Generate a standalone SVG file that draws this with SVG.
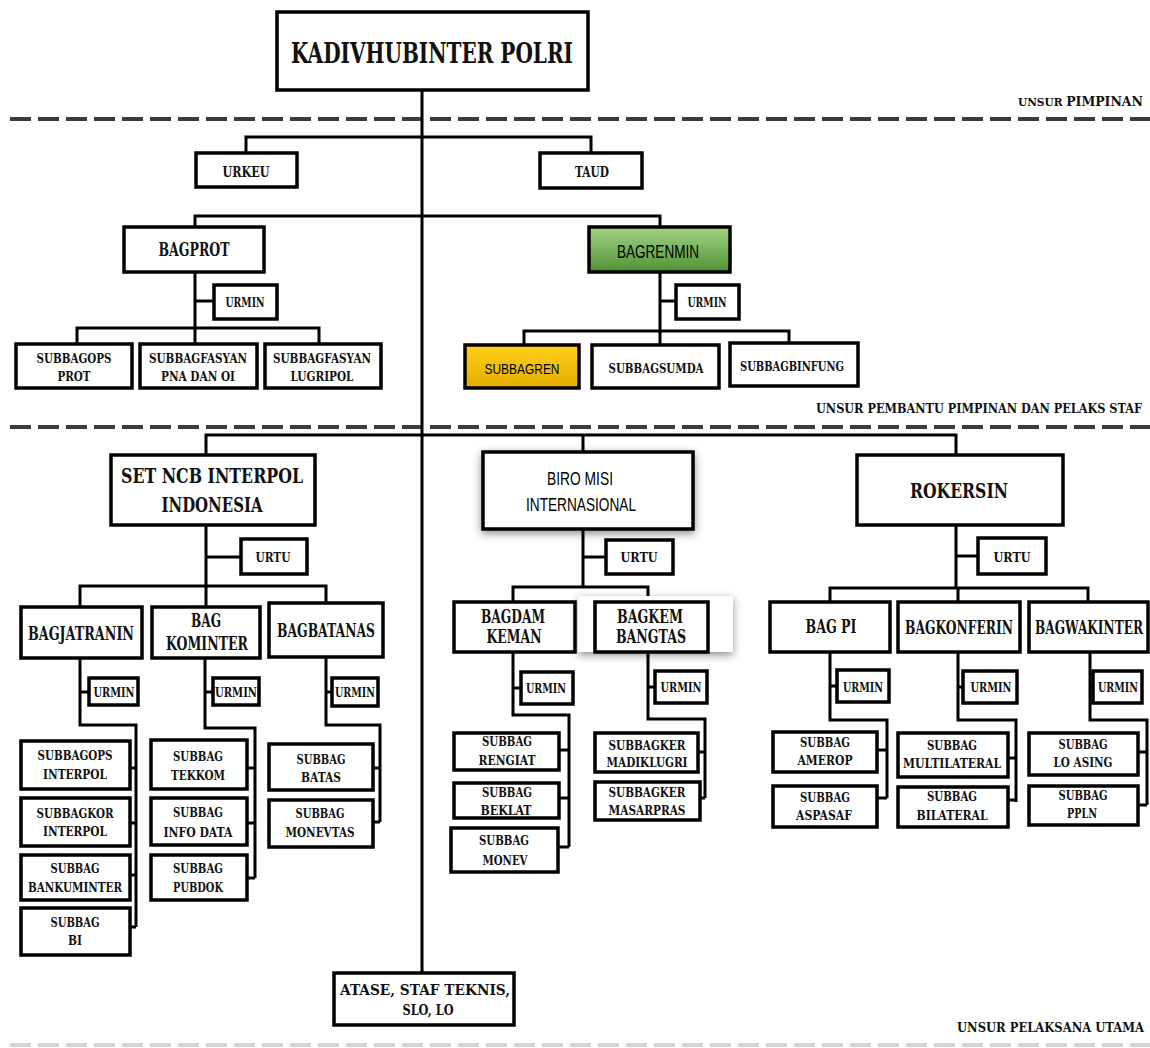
<svg xmlns="http://www.w3.org/2000/svg" width="1150" height="1048" viewBox="0 0 1150 1048">
<defs>
<style>
.box{fill:#fff;stroke:#000;stroke-width:3.5}
.ln{fill:none;stroke:#000;stroke-width:3}
.dash{fill:none;stroke:#3c3c3c;stroke-width:4;stroke-dasharray:21 7}
.t{font-family:"DejaVu Serif","Liberation Serif",serif;font-weight:bold;text-anchor:middle;fill:#111}
.s{font-family:"Liberation Sans","Arial",sans-serif;text-anchor:middle;fill:#000}
.u{font-family:"DejaVu Serif","Liberation Serif",serif;font-weight:bold;fill:#111}
.f28{font-size:28px}.f20{font-size:20px}.f19{font-size:19px}.f18{font-size:18px}.f17{font-size:17px}.f14{font-size:14px}.f13{font-size:13px}.f12{font-size:12px}
</style>
<linearGradient id="green" x1="0" y1="0" x2="0" y2="1">
<stop offset="0" stop-color="#a3d487"/><stop offset="1" stop-color="#4f9134"/>
</linearGradient>
<linearGradient id="yellow" x1="0" y1="0" x2="0" y2="1">
<stop offset="0" stop-color="#ffcf1a"/><stop offset="1" stop-color="#e5ae00"/>
</linearGradient>
<filter id="shadow" x="-20%" y="-30%" width="140%" height="160%">
<feDropShadow dx="0" dy="3" stdDeviation="4" flood-color="#000" flood-opacity="0.45"/>
</filter>
</defs>
<rect width="1150" height="1048" fill="#fff"/>

<g id="separators">
<line class="dash" x1="10" y1="119" x2="1150" y2="119"/>
<line class="dash" x1="10" y1="427" x2="1150" y2="427"/>
<line class="dash" x1="10" y1="1045" x2="1150" y2="1045" style="stroke:#d4d4d4"/>
<text class="u" x="1018" y="106" textLength="125" lengthAdjust="spacingAndGlyphs"><tspan style="font-size:11px">UNSUR </tspan><tspan style="font-size:13px">PIMPINAN</tspan></text>
<text class="u f12" x="816" y="413" textLength="326" lengthAdjust="spacingAndGlyphs">UNSUR PEMBANTU PIMPINAN DAN PELAKS STAF</text>
<text class="u f12" x="957" y="1032" textLength="187" lengthAdjust="spacingAndGlyphs">UNSUR PELAKSANA UTAMA</text>
</g>

<g id="connectors">
<path class="ln" d="M422 90 V973"/>
<path class="ln" d="M246 153 V137 H591 V153"/>
<path class="ln" d="M195 227 V216 H660 V227"/>
<path class="ln" d="M195 272 V328 M195 301 H214 M77 344 V328 H319 V344 M195 328 V344"/>
<path class="ln" d="M660 272 V331 M660 301 H676 M524 345 V331 H789 V343 M660 331 V345"/>
<path class="ln" d="M206 455 V435 H956 V455 M583 435 V452"/>
<path class="ln" d="M206 525 V586 M206 557 H241 M80 607 V586 H326 V603 M206 586 V607"/>
<path class="ln" d="M80 658 V725 H136 V927 M80 692 H89 M130 768 H136 M130 823 H136 M130 875 H136 M130 927 H136"/>
<path class="ln" d="M205 658 V728 H255 V878 M205 692 H213 M247 768 H255 M247 823 H255 M247 878 H255"/>
<path class="ln" d="M326 657 V725 H380 V822 M326 692 H332 M373 768 H380 M373 822 H380"/>
<path class="ln" d="M583 529 V587 M583 557 H606 M513 602 V587 H648 V602"/>
<path class="ln" d="M513 652 V715 H569 V847 M513 688 H521 M559 750 H569 M559 798 H569 M558 847 H569"/>
<path class="ln" d="M648 652 V719 H705 V798 M648 687 H655 M698 752 H705 M698 798 H705"/>
<path class="ln" d="M956 525 V588 M956 556 H978 M830 602 V588 H1088 V602 M958 588 V602"/>
<path class="ln" d="M830 652 V720 H887 V798 M830 686 H837 M877 750 H887 M877 798 H887"/>
<path class="ln" d="M958 652 V720 H1016 V802 M958 687 H963 M1008 758 H1016 M1008 800 H1016"/>
<path class="ln" d="M1090 652 V720 H1147 V805 M1090 687 H1093 M1138 752 H1147 M1138 805 H1147"/>
</g>

<g id="kadivhubinter"><rect class="box" x="277" y="12" width="311" height="78"/><text class="t f28" x="432" y="63" textLength="282" lengthAdjust="spacingAndGlyphs">KADIVHUBINTER POLRI</text></g>
<g id="urkeu"><rect class="box" x="196" y="153" width="101" height="34"/><text class="t f14" x="246" y="177" textLength="47" lengthAdjust="spacingAndGlyphs">URKEU</text></g>
<g id="taud"><rect class="box" x="540" y="153" width="102" height="35"/><text class="t f14" x="592" y="177" textLength="34" lengthAdjust="spacingAndGlyphs">TAUD</text></g>

<g id="bagprot"><rect class="box" x="124" y="227" width="140" height="45"/><text class="t f18" x="194" y="256" textLength="71" lengthAdjust="spacingAndGlyphs">BAGPROT</text></g>
<g id="bagprot-urmin"><rect class="box" x="214" y="285" width="63" height="34"/><text class="t f13" x="245" y="307" textLength="39" lengthAdjust="spacingAndGlyphs">URMIN</text></g>
<g id="subbagops-prot"><rect class="box" x="16" y="344" width="116" height="44"/><text class="t f13" x="74" y="363" textLength="75" lengthAdjust="spacingAndGlyphs">SUBBAGOPS</text><text class="t f13" x="74" y="381" textLength="33" lengthAdjust="spacingAndGlyphs">PROT</text></g>
<g id="subbagfasyan-pna"><rect class="box" x="140" y="344" width="117" height="44"/><text class="t f13" x="198" y="363" textLength="98" lengthAdjust="spacingAndGlyphs">SUBBAGFASYAN</text><text class="t f13" x="198" y="381" textLength="74" lengthAdjust="spacingAndGlyphs">PNA DAN OI</text></g>
<g id="subbagfasyan-lugripol"><rect class="box" x="265" y="344" width="116" height="44"/><text class="t f13" x="322" y="363" textLength="98" lengthAdjust="spacingAndGlyphs">SUBBAGFASYAN</text><text class="t f13" x="322" y="381" textLength="63" lengthAdjust="spacingAndGlyphs">LUGRIPOL</text></g>

<g id="bagrenmin"><rect class="box" x="589" y="227" width="141" height="45" style="fill:url(#green)"/><text class="s f19" x="658" y="258" textLength="82" lengthAdjust="spacingAndGlyphs">BAGRENMIN</text></g>
<g id="bagrenmin-urmin"><rect class="box" x="676" y="285" width="63" height="34"/><text class="t f13" x="707" y="307" textLength="39" lengthAdjust="spacingAndGlyphs">URMIN</text></g>
<g id="subbagren"><rect class="box" x="465" y="345" width="114" height="43" style="fill:url(#yellow)"/><text class="s f14" x="522" y="374" textLength="75" lengthAdjust="spacingAndGlyphs">SUBBAGREN</text></g>
<g id="subbagsumda"><rect class="box" x="592" y="345" width="127" height="43"/><text class="t f13" x="656" y="373" textLength="95" lengthAdjust="spacingAndGlyphs">SUBBAGSUMDA</text></g>
<g id="subbagbinfung"><rect class="box" x="730" y="343" width="128" height="43"/><text class="t f13" x="792" y="371" textLength="104" lengthAdjust="spacingAndGlyphs">SUBBAGBINFUNG</text></g>

<g id="set-ncb"><rect class="box" x="111" y="455" width="204" height="70"/><text class="t f20" x="212" y="483" textLength="182" lengthAdjust="spacingAndGlyphs">SET NCB INTERPOL</text><text class="t f20" x="212" y="512" textLength="101" lengthAdjust="spacingAndGlyphs">INDONESIA</text></g>
<g id="ncb-urtu"><rect class="box" x="241" y="539" width="66" height="35"/><text class="t f13" x="273" y="562" textLength="35" lengthAdjust="spacingAndGlyphs">URTU</text></g>
<g id="bagjatranin"><rect class="box" x="21" y="607" width="121" height="51"/><text class="t f18" x="81" y="640" textLength="106" lengthAdjust="spacingAndGlyphs">BAGJATRANIN</text></g>
<g id="bag-kominter"><rect class="box" x="152" y="607" width="108" height="51"/><text class="t f18" x="206" y="627" textLength="30" lengthAdjust="spacingAndGlyphs">BAG</text><text class="t f18" x="207" y="650" textLength="82" lengthAdjust="spacingAndGlyphs">KOMINTER</text></g>
<g id="bagbatanas"><rect class="box" x="269" y="603" width="114" height="54"/><text class="t f18" x="326" y="637" textLength="98" lengthAdjust="spacingAndGlyphs">BAGBATANAS</text></g>
<g id="jatranin-urmin"><rect class="box" x="89" y="678" width="49" height="27"/><text class="t f12" x="114" y="697" textLength="41" lengthAdjust="spacingAndGlyphs">URMIN</text></g>
<g id="kominter-urmin"><rect class="box" x="213" y="678" width="46" height="27"/><text class="t f12" x="236" y="697" textLength="42" lengthAdjust="spacingAndGlyphs">URMIN</text></g>
<g id="batanas-urmin"><rect class="box" x="332" y="678" width="46" height="28"/><text class="t f12" x="355" y="697" textLength="40" lengthAdjust="spacingAndGlyphs">URMIN</text></g>
<g id="subbagops-interpol"><rect class="box" x="21" y="741" width="109" height="48"/><text class="t f13" x="75" y="760" textLength="75" lengthAdjust="spacingAndGlyphs">SUBBAGOPS</text><text class="t f13" x="75" y="779" textLength="64" lengthAdjust="spacingAndGlyphs">INTERPOL</text></g>
<g id="subbagkor-interpol"><rect class="box" x="21" y="798" width="109" height="48"/><text class="t f13" x="75" y="818" textLength="77" lengthAdjust="spacingAndGlyphs">SUBBAGKOR</text><text class="t f13" x="75" y="836" textLength="64" lengthAdjust="spacingAndGlyphs">INTERPOL</text></g>
<g id="subbag-bankuminter"><rect class="box" x="21" y="855" width="109" height="45"/><text class="t f13" x="75" y="873" textLength="49" lengthAdjust="spacingAndGlyphs">SUBBAG</text><text class="t f13" x="75" y="892" textLength="94" lengthAdjust="spacingAndGlyphs">BANKUMINTER</text></g>
<g id="subbag-bi"><rect class="box" x="21" y="908" width="109" height="47"/><text class="t f13" x="75" y="927" textLength="49" lengthAdjust="spacingAndGlyphs">SUBBAG</text><text class="t f13" x="75" y="945" textLength="14" lengthAdjust="spacingAndGlyphs">BI</text></g>
<g id="subbag-tekkom"><rect class="box" x="151" y="740" width="96" height="49"/><text class="t f13" x="198" y="761" textLength="50" lengthAdjust="spacingAndGlyphs">SUBBAG</text><text class="t f13" x="198" y="780" textLength="54" lengthAdjust="spacingAndGlyphs">TEKKOM</text></g>
<g id="subbag-infodata"><rect class="box" x="151" y="798" width="96" height="47"/><text class="t f13" x="198" y="817" textLength="50" lengthAdjust="spacingAndGlyphs">SUBBAG</text><text class="t f13" x="198" y="837" textLength="69" lengthAdjust="spacingAndGlyphs">INFO DATA</text></g>
<g id="subbag-pubdok"><rect class="box" x="151" y="855" width="96" height="45"/><text class="t f13" x="198" y="873" textLength="50" lengthAdjust="spacingAndGlyphs">SUBBAG</text><text class="t f13" x="198" y="892" textLength="50" lengthAdjust="spacingAndGlyphs">PUBDOK</text></g>
<g id="subbag-batas"><rect class="box" x="269" y="744" width="104" height="46"/><text class="t f13" x="321" y="764" textLength="49" lengthAdjust="spacingAndGlyphs">SUBBAG</text><text class="t f13" x="321" y="782" textLength="40" lengthAdjust="spacingAndGlyphs">BATAS</text></g>
<g id="subbag-monevtas"><rect class="box" x="269" y="800" width="104" height="47"/><text class="t f13" x="320" y="818" textLength="49" lengthAdjust="spacingAndGlyphs">SUBBAG</text><text class="t f13" x="320" y="837" textLength="69" lengthAdjust="spacingAndGlyphs">MONEVTAS</text></g>

<g id="biro-misi"><rect class="box" x="483" y="452" width="210" height="77" filter="url(#shadow)"/><text class="s f19" x="580" y="485" textLength="66" lengthAdjust="spacingAndGlyphs">BIRO MISI</text><text class="s f19" x="581" y="511" textLength="110" lengthAdjust="spacingAndGlyphs">INTERNASIONAL</text></g>
<g id="biro-urtu"><rect class="box" x="606" y="540" width="67" height="34"/><text class="t f13" x="639" y="562" textLength="37" lengthAdjust="spacingAndGlyphs">URTU</text></g>
<g id="bagdam-keman"><rect class="box" x="454" y="602" width="121" height="50"/><text class="t f18" x="513" y="623" textLength="64" lengthAdjust="spacingAndGlyphs">BAGDAM</text><text class="t f18" x="514" y="643" textLength="55" lengthAdjust="spacingAndGlyphs">KEMAN</text></g>
<g id="bagkem-bangtas"><rect x="578" y="596" width="155" height="56" fill="#fff" filter="url(#shadow)"/><rect class="box" x="595" y="602" width="113" height="50"/><text class="t f18" x="650" y="623" textLength="66" lengthAdjust="spacingAndGlyphs">BAGKEM</text><text class="t f18" x="651" y="643" textLength="70" lengthAdjust="spacingAndGlyphs">BANGTAS</text></g>
<g id="bagdam-urmin"><rect class="box" x="521" y="672" width="52" height="32"/><text class="t f12" x="546" y="693" textLength="40" lengthAdjust="spacingAndGlyphs">URMIN</text></g>
<g id="bagkem-urmin"><rect class="box" x="655" y="671" width="52" height="32"/><text class="t f12" x="681" y="692" textLength="41" lengthAdjust="spacingAndGlyphs">URMIN</text></g>
<g id="subbag-rengiat"><rect class="box" x="454" y="733" width="105" height="37"/><text class="t f13" x="507" y="746" textLength="50" lengthAdjust="spacingAndGlyphs">SUBBAG</text><text class="t f13" x="507" y="765" textLength="57" lengthAdjust="spacingAndGlyphs">RENGIAT</text></g>
<g id="subbag-beklat"><rect class="box" x="454" y="783" width="105" height="35"/><text class="t f13" x="507" y="797" textLength="50" lengthAdjust="spacingAndGlyphs">SUBBAG</text><text class="t f13" x="506" y="815" textLength="51" lengthAdjust="spacingAndGlyphs">BEKLAT</text></g>
<g id="subbag-monev"><rect class="box" x="451" y="828" width="107" height="44"/><text class="t f13" x="504" y="845" textLength="50" lengthAdjust="spacingAndGlyphs">SUBBAG</text><text class="t f13" x="505" y="865" textLength="45" lengthAdjust="spacingAndGlyphs">MONEV</text></g>
<g id="subbagker-madiklugri"><rect class="box" x="595" y="733" width="103" height="39"/><text class="t f13" x="647" y="750" textLength="77" lengthAdjust="spacingAndGlyphs">SUBBAGKER</text><text class="t f13" x="647" y="767" textLength="81" lengthAdjust="spacingAndGlyphs">MADIKLUGRI</text></g>
<g id="subbagker-masarpras"><rect class="box" x="595" y="782" width="105" height="38"/><text class="t f13" x="647" y="797" textLength="77" lengthAdjust="spacingAndGlyphs">SUBBAGKER</text><text class="t f13" x="647" y="815" textLength="77" lengthAdjust="spacingAndGlyphs">MASARPRAS</text></g>

<g id="rokersin"><rect class="box" x="857" y="455" width="206" height="70"/><text class="t f20" x="959" y="498" textLength="98" lengthAdjust="spacingAndGlyphs">ROKERSIN</text></g>
<g id="rokersin-urtu"><rect class="box" x="978" y="538" width="68" height="36"/><text class="t f13" x="1012" y="562" textLength="37" lengthAdjust="spacingAndGlyphs">URTU</text></g>
<g id="bag-pi"><rect class="box" x="770" y="602" width="120" height="50"/><text class="t f18" x="831" y="633" textLength="51" lengthAdjust="spacingAndGlyphs">BAG PI</text></g>
<g id="bagkonferin"><rect class="box" x="898" y="602" width="122" height="50"/><text class="t f18" x="959" y="634" textLength="108" lengthAdjust="spacingAndGlyphs">BAGKONFERIN</text></g>
<g id="bagwakinter"><rect class="box" x="1029" y="602" width="119" height="50"/><text class="t f18" x="1089" y="634" textLength="108" lengthAdjust="spacingAndGlyphs">BAGWAKINTER</text></g>
<g id="bagpi-urmin"><rect class="box" x="837" y="670" width="52" height="32"/><text class="t f12" x="863" y="692" textLength="40" lengthAdjust="spacingAndGlyphs">URMIN</text></g>
<g id="bagkonferin-urmin"><rect class="box" x="963" y="671" width="54" height="32"/><text class="t f12" x="991" y="692" textLength="41" lengthAdjust="spacingAndGlyphs">URMIN</text></g>
<g id="bagwakinter-urmin"><rect class="box" x="1093" y="671" width="49" height="32"/><text class="t f12" x="1118" y="692" textLength="40" lengthAdjust="spacingAndGlyphs">URMIN</text></g>
<g id="subbag-amerop"><rect class="box" x="773" y="732" width="104" height="40"/><text class="t f13" x="825" y="747" textLength="50" lengthAdjust="spacingAndGlyphs">SUBBAG</text><text class="t f13" x="825" y="765" textLength="55" lengthAdjust="spacingAndGlyphs">AMEROP</text></g>
<g id="subbag-aspasaf"><rect class="box" x="773" y="786" width="104" height="41"/><text class="t f13" x="825" y="802" textLength="50" lengthAdjust="spacingAndGlyphs">SUBBAG</text><text class="t f13" x="824" y="820" textLength="56" lengthAdjust="spacingAndGlyphs">ASPASAF</text></g>
<g id="subbag-multilateral"><rect class="box" x="898" y="733" width="110" height="44"/><text class="t f13" x="952" y="750" textLength="50" lengthAdjust="spacingAndGlyphs">SUBBAG</text><text class="t f13" x="952" y="768" textLength="98" lengthAdjust="spacingAndGlyphs">MULTILATERAL</text></g>
<g id="subbag-bilateral"><rect class="box" x="898" y="787" width="110" height="40"/><text class="t f13" x="952" y="801" textLength="50" lengthAdjust="spacingAndGlyphs">SUBBAG</text><text class="t f13" x="952" y="820" textLength="71" lengthAdjust="spacingAndGlyphs">BILATERAL</text></g>
<g id="subbag-loasing"><rect class="box" x="1029" y="733" width="109" height="42"/><text class="t f13" x="1083" y="749" textLength="49" lengthAdjust="spacingAndGlyphs">SUBBAG</text><text class="t f13" x="1083" y="767" textLength="59" lengthAdjust="spacingAndGlyphs">LO ASING</text></g>
<g id="subbag-ppln"><rect class="box" x="1029" y="786" width="109" height="39"/><text class="t f13" x="1083" y="800" textLength="49" lengthAdjust="spacingAndGlyphs">SUBBAG</text><text class="t f13" x="1082" y="818" textLength="30" lengthAdjust="spacingAndGlyphs">PPLN</text></g>

<g id="atase"><rect class="box" x="334" y="973" width="180" height="52"/><text class="t f14" x="425" y="995" textLength="170" lengthAdjust="spacingAndGlyphs">ATASE, STAF TEKNIS,</text><text class="t f14" x="428" y="1015" textLength="51" lengthAdjust="spacingAndGlyphs">SLO, LO</text></g>
</svg>
